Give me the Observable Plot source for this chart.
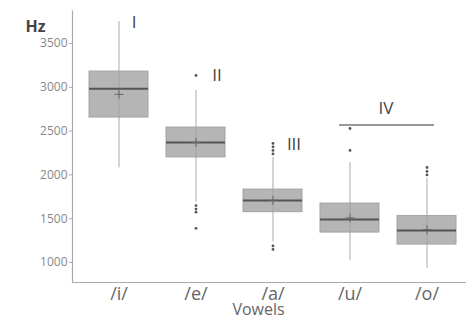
<!DOCTYPE html>
<html>
<head>
<meta charset="utf-8">
<script src="https://cdn.jsdelivr.net/npm/d3@7"></script>
<script src="https://cdn.jsdelivr.net/npm/@observablehq/plot@0.6"></script>
<style>
  html, body { margin: 0; padding: 0; background: #fff; }
  #chart { width: 466px; height: 320px; }
</style>
</head>
<body>
<div id="chart"></div>
<script>
const vowels = ["/i/", "/e/", "/a/", "/u/", "/o/"];
const q1 = [2655, 2200, 1575, 1342, 1205];
const medians = [2985, 2370, 1708, 1491, 1365];
const q3 = [3180, 2541, 1833, 1673, 1530];
const whiskerLow = [2080, 1690, 1235, 1023, 930];
const whiskerHigh = [3750, 2965, 2200, 2140, 1960];
const means = [2920, 2370, 1710, 1510, 1375];
const outlierVowel = ["/e/", "/e/", "/e/", "/e/", "/e/", "/a/", "/a/", "/a/", "/a/", "/a/", "/a/", "/u/", "/u/", "/o/", "/o/", "/o/"];
const outlierValue = [3135, 1650, 1610, 1575, 1390, 2360, 2320, 2280, 2240, 1190, 1150, 2530, 2280, 2085, 2040, 2000];
const yTicks = [1000, 1500, 2000, 2500, 3000, 3500];
const groupLabels = ["I", "II", "III", "IV"];
const groupVowel = ["/i/", "/e/", "/a/", "/u/"];
const groupY = [3745, 3130, 2350, 2760];
const groupDx = [15, 21, 21, 36];
const bracketFrom = "/u/";
const bracketTo = "/o/";
const bracketY = 2570;

const boxes = vowels.map((v, i) => ({
  v, q1: q1[i], med: medians[i], q3: q3[i], lo: whiskerLow[i], hi: whiskerHigh[i], mean: means[i]
}));
const outliers = outlierVowel.map((v, i) => ({v, y: outlierValue[i]}));
const groups = groupLabels.map((t, i) => ({t, v: groupVowel[i], y: groupY[i], dx: groupDx[i]}));

const W = 466, H = 320, mL = 72, mR = 0, mT = 10, mB = 38;
const fw = W - mL - mR, fh = H - mT - mB;

const plot = Plot.plot({
  width: W,
  height: H,
  marginLeft: mL,
  marginRight: mR,
  marginTop: mT,
  marginBottom: mB,
  style: {fontFamily: "'Open Sans', 'DejaVu Sans', sans-serif", background: "#fff"},
  x: {domain: vowels, range: [88, 457], paddingInner: 0.24, paddingOuter: 0, label: null},
  y: {domain: [772, 3877], label: null},
  marks: [
    Plot.frame({stroke: "#aaa", strokeWidth: 1.2, strokeDasharray: `0 ${fw + fh} ${fw + fh}`}),
    Plot.ruleX(boxes, {x: "v", y1: "lo", y2: "hi", stroke: "#aaa", strokeWidth: 1}),
    Plot.barY(boxes, {x: "v", y1: "q1", y2: "q3", fill: "#b5b5b5", stroke: "#a3a3a3", strokeWidth: 1}),
    Plot.ruleX(boxes, {x: "v", y1: "q1", y2: "q3", stroke: "#a3a3a3", strokeWidth: 1}),
    Plot.tickY(boxes, {x: "v", y: "med", stroke: "#555", strokeWidth: 2}),
    Plot.dot(boxes, {x: "v", y: "mean", symbol: "plus", r: 3, stroke: "#666", strokeWidth: 1}),
    Plot.dot(outliers, {x: "v", y: "y", r: 1.4, fill: "#555", stroke: null}),
    Plot.ruleY([bracketY], {x1: () => bracketFrom, x2: () => bracketTo, y: d => d, insetLeft: 19, insetRight: 22, stroke: "#999", strokeWidth: 2}),
    ...groups.map(g => Plot.text([g], {x: "v", y: "y", text: "t", dx: g.dx, fontSize: 17, fill: "#444", fontWeight: 500})),
    Plot.axisY({ticks: yTicks, tickFormat: d => String(d), tickSize: 3, tickPadding: 2, fontSize: 12, color: "#888", stroke: "#aaa"}),
    Plot.axisX({tickSize: 0, tickPadding: 5, fontSize: 18, color: "#666", label: null}),
    Plot.text(["Vowels"], {frameAnchor: "bottom", dx: -11, dy: 32, text: d => d, fontSize: 16, fill: "#666"}),
    Plot.text(["Hz"], {frameAnchor: "top-left", dx: -47, dy: 10, text: d => d, fontSize: 16, fontWeight: "bold", fill: "#444", textAnchor: "start"})
  ]
});
document.getElementById("chart").appendChild(plot);
</script>
</body>
</html>
